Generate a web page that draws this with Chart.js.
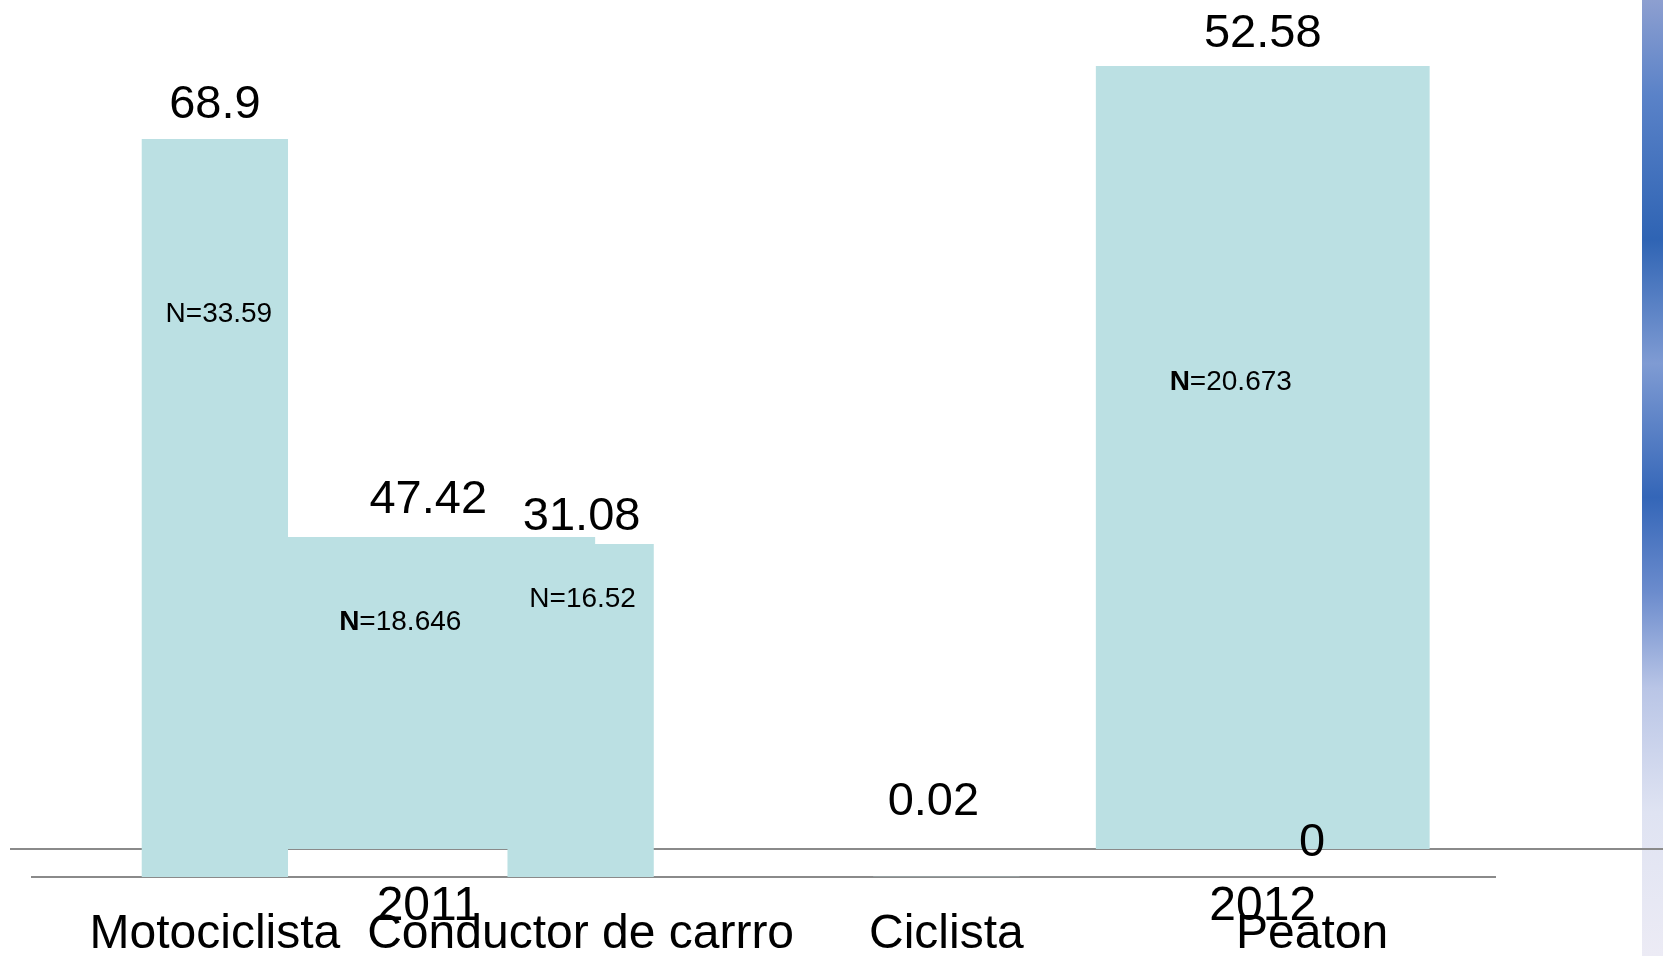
<html>
<head>
  <meta charset="UTF-8">
  <script src="https://cdn.jsdelivr.net/npm/chart.js@4.4.0/dist/chart.umd.min.js"></script>
  <style>
    body { margin: 0; overflow: hidden; background: #fff; width: 1663px; height: 956px; position: relative; }
    #strip { position: absolute; left: 1642px; top: 0; width: 21px; height: 956px;
      background: linear-gradient(to bottom, #8d9fd0 0%, #5a82c8 10%, #2f64b4 25%, #7f9bd3 38%, #3466b8 52%, #6c8ccd 62%, #b9c5e6 72%, #dfe3f2 85%, #ecebf5 100%); }
    canvas { position: absolute; left: 0; top: 0; }
  </style>
</head>
<body>
  <div id="strip"></div>
  <canvas id="chartYears" width="1700" height="956"></canvas>
  <canvas id="chartTipo" width="1663" height="956"></canvas>
  <script>
    // tipo de usuario
    const tipos = ['Motociclista', 'Conductor de carrro', 'Ciclista', 'Peaton'];
    const tipoValores = [68.9, 31.08, 0.02, 0];
    const tipoN = ['N=33.59', 'N=16.52', '', ''];

    // por año
    const anios = ['2011', '2012'];
    const anioValores = [47.42, 52.58];
    const anioN = ['N=18.646', 'N=20.673'];

    const barColor = '#bbe0e3';
    const axisColor = '#8a8a8a';
    const fontFam = '"Liberation Sans", Arial, sans-serif';

    // etiquetas de valor y de N encima / dentro de las barras
    const etiquetas = {
      id: 'etiquetas',
      afterDatasetsDraw(chart, args, opts) {
        const ctx = chart.ctx;
        ctx.save();
        ctx.fillStyle = '#000';
        ctx.textBaseline = 'middle';
        chart.data.datasets.forEach((ds, di) => {
          const meta = chart.getDatasetMeta(di);
          meta.data.forEach((bar, i) => {
            const v = ds.data[i];
            if (v === null || v === undefined) return;
            const k = opts.porIndice ? di : i;
            const off = opts.valOff[k];
            ctx.font = '47px ' + fontFam;
            ctx.textAlign = 'center';
            ctx.fillText(String(v), bar.x + off[0], bar.y - off[1]);
            const n = opts.nTextos[k];
            if (n) {
              const no = opts.nOff[k];
              const rest = n.slice(1);
              ctx.font = (opts.nBold ? 'bold ' : '') + '28px ' + fontFam;
              const w1 = ctx.measureText('N').width;
              ctx.font = '28px ' + fontFam;
              const w2 = ctx.measureText(rest).width;
              const x0 = bar.x + no[0] - (w1 + w2) / 2;
              ctx.textAlign = 'left';
              ctx.font = (opts.nBold ? 'bold ' : '') + '28px ' + fontFam;
              ctx.fillText('N', x0, bar.y + no[1]);
              ctx.font = '28px ' + fontFam;
              ctx.fillText(rest, x0 + w1, bar.y + no[1]);
            }
          });
        });
        ctx.restore();
      }
    };

    function ejeX(alto) {
      return {
        grid: { display: false, drawTicks: false },
        border: { display: true, color: axisColor, width: 2 },
        ticks: { color: '#000', font: { family: fontFam, size: 48 }, padding: 29, autoSkip: false, maxRotation: 0 },
        afterFit(scale) { scale.height = alto; }
      };
    }

    // gráfico por año (debajo)
    new Chart(document.getElementById('chartYears'), {
      type: 'bar',
      data: {
        labels: anios,
        datasets: anios.map((a, i) => ({
          label: a,
          data: anioValores.map((v, j) => (j === i ? v : null)),
          yAxisID: i === 0 ? 'y' : 'y2',
          grouped: false,
          backgroundColor: barColor,
          borderWidth: 0,
          barPercentage: 0.4,
          categoryPercentage: 1
        }))
      },
      options: {
        responsive: false,
        animation: false,
        layout: { padding: { left: 11, right: 20, top: 20, bottom: 0 } },
        plugins: {
          legend: { display: false },
          tooltip: { enabled: false },
          etiquetas: {
            porIndice: true,
            valOff: [[0, 37], [0, 32]],
            nTextos: anioN,
            nOff: [[-28, 85], [-32, 316]],
            nBold: true
          }
        },
        scales: {
          x: ejeX(107),
          y: { display: false, min: 0, max: 126 },
          y2: { display: false, min: 0, max: 55.67 }
        }
      },
      plugins: [etiquetas]
    });

    // gráfico por tipo de usuario (encima)
    new Chart(document.getElementById('chartTipo'), {
      type: 'bar',
      data: {
        labels: tipos,
        datasets: [{
          label: 'Tipo',
          data: tipoValores,
          backgroundColor: barColor,
          borderWidth: 0,
          barPercentage: 0.4,
          categoryPercentage: 1
        }]
      },
      options: {
        responsive: false,
        animation: false,
        layout: { padding: { left: 32, right: 168, top: 20, bottom: 0 } },
        plugins: {
          legend: { display: false },
          tooltip: { enabled: false },
          etiquetas: {
            porIndice: false,
            valOff: [[0, 34], [1, 27], [-13, 75], [0, 34]],
            nTextos: tipoN,
            nOff: [[4, 175], [2, 55], [0, 0], [0, 0]],
            nBold: false
          }
        },
        scales: {
          x: ejeX(79),
          y: { display: false, min: 0, max: 80 }
        }
      },
      plugins: [etiquetas]
    });
  </script>
</body>
</html>
